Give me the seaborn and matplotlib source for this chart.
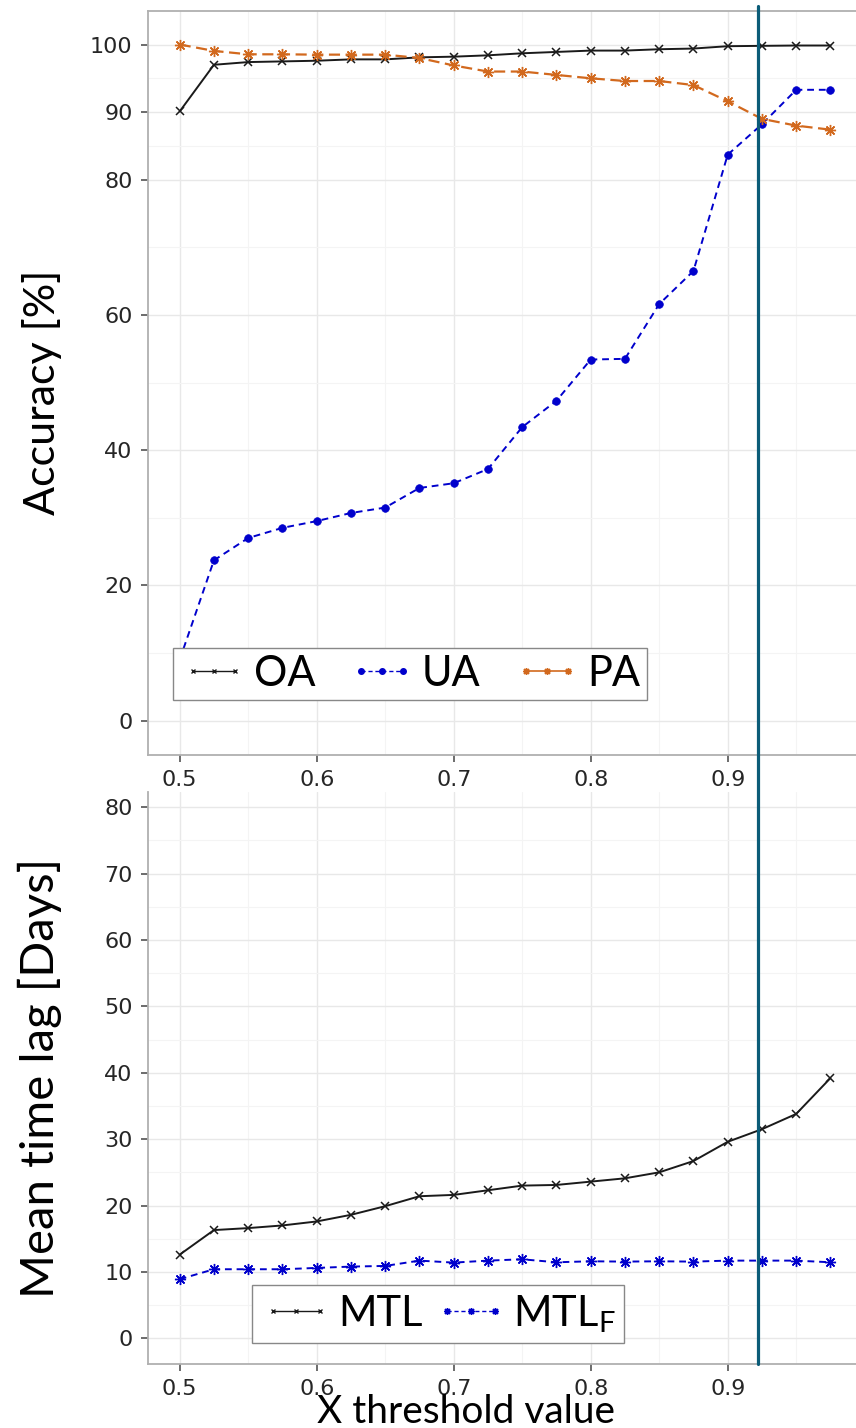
import matplotlib
matplotlib.use('Agg')
import matplotlib.pyplot as plt
import matplotlib.transforms as mtransforms
from matplotlib.lines import Line2D
import numpy as np
import pandas as pd
import seaborn as sns

# datos
thresholds = [0.5, 0.525, 0.55, 0.575, 0.6, 0.625, 0.65, 0.675, 0.7, 0.725,
              0.75, 0.775, 0.8, 0.825, 0.85, 0.875, 0.9, 0.925, 0.95, 0.975]
oa = [90.1, 97.0, 97.4, 97.5, 97.6, 97.8, 97.8, 98.1, 98.2, 98.4,
      98.7, 98.9, 99.1, 99.1, 99.3, 99.4, 99.75, 99.8, 99.85, 99.85]
ua = [9.0, 23.7, 27.0, 28.5, 29.5, 30.7, 31.5, 34.4, 35.1, 37.2,
      43.4, 47.3, 53.4, 53.5, 61.6, 66.5, 83.7, 88.2, 93.3, 93.3]
pa = [100.0, 99.05, 98.55, 98.55, 98.5, 98.5, 98.5, 98.0, 96.9, 96.0,
      96.0, 95.5, 95.0, 94.6, 94.6, 94.0, 91.6, 89.0, 88.0, 87.4]
mtl = [12.6, 16.3, 16.6, 17.0, 17.6, 18.6, 19.9, 21.4, 21.6, 22.3,
       23.0, 23.1, 23.6, 24.1, 25.0, 26.7, 29.6, 31.5, 33.8, 39.2]
mtl_f = [8.9, 10.4, 10.4, 10.4, 10.6, 10.8, 10.9, 11.7, 11.4, 11.7,
         11.9, 11.45, 11.6, 11.55, 11.6, 11.55, 11.7, 11.7, 11.7, 11.45]
cut_off = 0.922

top_labels = ['OA', 'UA', 'PA']
bottom_labels = ['MTL', 'MTL$_\\mathregular{F}$']

sns.set_style('white')
plt.rcParams['font.family'] = ['DejaVu Sans']
plt.rcParams['text.color'] = 'black'

W, H = 856, 1428
fig = plt.figure(figsize=(W / 100, H / 100), dpi=100)
left = 147.8 / W
ax1 = fig.add_axes([left, 1 - 755 / H, 1 - left, (755 - 10.7) / H])
ax2 = fig.add_axes([left, 1 - 1363.5 / H, 1 - left, (1363.5 - 792) / H])

df = pd.DataFrame({'x': thresholds, 'OA': oa, 'UA': ua, 'PA': pa,
                   'MTL': mtl, 'MTLF': mtl_f})

asterisk = (8, 2, 0)
black = '#1a1a1a'
blue = '#0000cc'
orange = '#d2691e'

sns.lineplot(data=df, x='x', y='OA', ax=ax1, color=black, lw=1.4,
             marker='x', markersize=6, markeredgecolor=black, markeredgewidth=1.1)
sns.lineplot(data=df, x='x', y='UA', ax=ax1, color=blue, lw=1.4,
             linestyle=(0, (3.5, 2.5)), marker='o', markersize=5.5,
             markeredgecolor=blue, markeredgewidth=0.5)
sns.lineplot(data=df, x='x', y='PA', ax=ax1, color=orange, lw=1.6,
             linestyle=(0, (5, 2.5)), marker=asterisk, markersize=8,
             markeredgecolor=orange, markeredgewidth=1.0)

sns.lineplot(data=df, x='x', y='MTL', ax=ax2, color=black, lw=1.4,
             marker='x', markersize=6, markeredgecolor=black, markeredgewidth=1.1)
sns.lineplot(data=df, x='x', y='MTLF', ax=ax2, color=blue, lw=1.4,
             linestyle=(0, (3.5, 2.5)), marker=asterisk, markersize=8,
             markeredgecolor=blue, markeredgewidth=1.0)

for ax in (ax1, ax2):
    ax.set_xlim(0.47672, 0.99365)
    ax.set_xticks([0.5, 0.6, 0.7, 0.8, 0.9])
    ax.set_xticks([0.55, 0.65, 0.75, 0.85, 0.95], minor=True)
    ax.set_xticklabels(['0.5', '0.6', '0.7', '0.8', '0.9'])
    ax.set_xlabel('')
    ax.set_ylabel('')
    ax.set_axisbelow(True)
    ax.grid(True, which='major', color='#e8e8e8', lw=1.0)
    ax.grid(True, which='minor', color='#f4f4f4', lw=0.8)
    ax.tick_params(which='major', direction='out', length=5, width=1.1,
                   color='#444444', labelcolor='#262626', labelsize=16, pad=6,
                   left=True, bottom=True)
    ax.tick_params(which='minor', length=0)
    for s in ax.spines.values():
        s.set_color('#b0b0b0')
        s.set_linewidth(1.3)
    ax.spines['right'].set_visible(False)

ax1.set_ylim(-5.1, 105)
ax1.set_yticks([0, 20, 40, 60, 80, 90, 100])
ax1.set_yticks([10, 30, 50, 70, 85, 95], minor=True)

ax2.set_ylim(-3.8, 82.3)
ax2.set_yticks(np.arange(0, 81, 10))
ax2.set_yticks(np.arange(5, 80, 10), minor=True)
ax2.spines['top'].set_visible(False)

# leyendas
lfont = {'family': 'Lato', 'size': 30}
h_top = [Line2D([], [], color=black, lw=1.0, marker='x', markersize=3.5, mec=black),
         Line2D([], [], color=blue, lw=1.0, ls=(0, (3, 2)), marker='o', markersize=4, mec=blue),
         Line2D([], [], color=orange, lw=1.2, marker=asterisk, markersize=5, mec=orange)]
leg1 = ax1.legend(h_top, top_labels, ncol=3, loc='lower left',
                  bbox_to_anchor=(173.3 / W, 1 - 700 / H), bbox_transform=fig.transFigure,
                  borderaxespad=0, prop=lfont, handlelength=1.62, handletextpad=0.15,
                  columnspacing=0.78, borderpad=0.17, numpoints=3,
                  fancybox=False, framealpha=1, edgecolor='#888888')
leg1.get_frame().set_linewidth(1.0)

h_bot = [Line2D([], [], color=black, lw=1.0, marker='x', markersize=3.5, mec=black),
         Line2D([], [], color=blue, lw=1.0, ls=(0, (3, 2)), marker=asterisk, markersize=5, mec=blue)]
leg2 = ax2.legend(h_bot, bottom_labels, ncol=2, loc='lower left',
                  bbox_to_anchor=(251.7 / W, 1 - 1343.3 / H), bbox_transform=fig.transFigure,
                  borderaxespad=0, prop=lfont, handlelength=1.75, handletextpad=0.12,
                  columnspacing=0.3, borderpad=0.2, numpoints=3,
                  fancybox=False, framealpha=1, edgecolor='#888888')
leg2.get_frame().set_linewidth(1.0)

# linea vertical del umbral elegido
trans = mtransforms.blended_transform_factory(ax1.transData, fig.transFigure)
fig.add_artist(Line2D([cut_off, cut_off], [1 - 5.7 / H, 1 - 1363.5 / H],
                      transform=trans, color='#0b5c78', lw=2.3))

# titulos de ejes
fig.text(42 / W, 1 - 392 / H, 'Accuracy [%]', rotation=90, ha='center', va='center',
         family='Lato', size=31)
fig.text(40 / W, 1 - 1078 / H, 'Mean time lag [Days]', rotation=90, ha='center',
         va='center', family='Lato', size=34)
fig.text(466.5 / W, 5 / H, 'X threshold value', ha='center', va='baseline',
         family='Lato', size=28)

fig.savefig('out.png', dpi=100)
